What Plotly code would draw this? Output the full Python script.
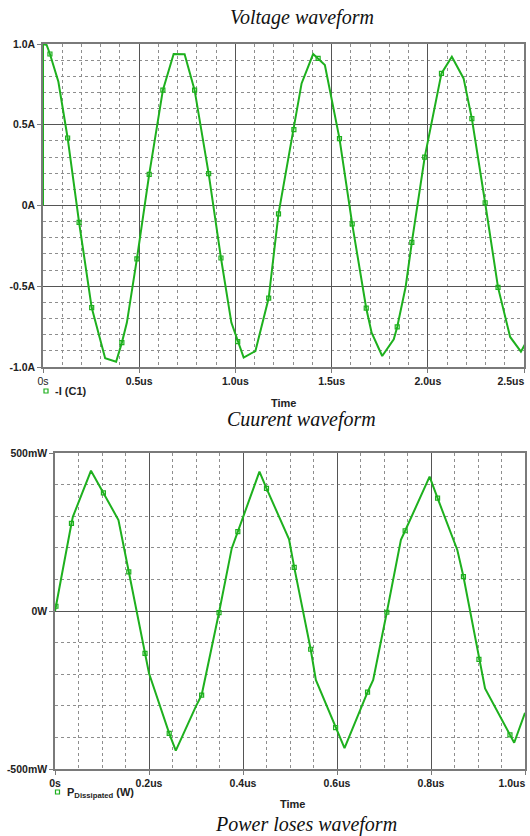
import plotly.graph_objects as go

# Capacitor current -I(C1): time in microseconds, current in amperes
t_i = [0, 0, 0.019, 0.036, 0.080, 0.128, 0.1875, 0.253, 0.323, 0.380, 0.410, 0.436,
       0.488, 0.552, 0.623, 0.679, 0.736, 0.788, 0.861, 0.925, 0.979, 1.012, 1.043,
       1.104, 1.173, 1.224, 1.304, 1.344, 1.404, 1.430, 1.465, 1.541, 1.607, 1.680,
       1.708, 1.763, 1.823, 1.841, 1.885, 1.917, 1.984, 2.071, 2.125, 2.186, 2.229,
       2.298, 2.365, 2.428, 2.484, 2.51]
i_c1 = [0, 1.0, 0.994, 0.938, 0.766, 0.418, -0.104, -0.632, -0.946, -0.967, -0.849,
        -0.725, -0.331, 0.193, 0.714, 0.938, 0.936, 0.714, 0.197, -0.325, -0.725,
        -0.843, -0.942, -0.901, -0.573, -0.052, 0.470, 0.756, 0.938, 0.911, 0.870,
        0.414, -0.114, -0.636, -0.787, -0.932, -0.828, -0.752, -0.503, -0.228, 0.300,
        0.818, 0.921, 0.787, 0.538, 0.017, -0.507, -0.814, -0.905, -0.849]
# samples that carry a marker symbol
i_marked = [3, 5, 6, 7, 10, 12, 13, 14, 17, 18, 19, 21, 24, 25, 26, 29, 31, 32, 33,
            37, 39, 40, 41, 44, 45, 46]

# Dissipated power: time in microseconds, power in milliwatts
t_p = [0, 0.002, 0.035, 0.038, 0.0766, 0.103, 0.135, 0.157, 0.1915, 0.200, 0.243,
       0.257, 0.300, 0.312, 0.349, 0.376, 0.389, 0.435, 0.450, 0.498, 0.509, 0.544,
       0.555, 0.597, 0.616, 0.665, 0.677, 0.706, 0.736, 0.745, 0.797, 0.814, 0.856,
       0.869, 0.902, 0.915, 0.968, 0.977, 1.0]
p_diss = [0, 15, 277, 298, 444, 374, 288, 124, -134, -197, -387, -442, -301, -266,
          -5, 198, 251, 441, 388, 227, 138, -121, -218, -369, -434, -257, -218, -4,
          225, 254, 425, 357, 193, 109, -153, -245, -392, -417, -322]
p_marked = [1, 2, 5, 7, 8, 10, 13, 14, 16, 18, 20, 21, 23, 25, 27, 29, 31, 33, 34, 36]

# Axis ticks
i_xticks = [0, 0.5, 1.0, 1.5, 2.0, 2.5]
i_xlabels = ["0s", "<b>0.5us</b>", "<b>1.0us</b>", "<b>1.5us</b>", "<b>2.0us</b>",
             "<b>2.5us</b>" + "\u00a0" * 9]
i_yticks = [-1.0, -0.5, 0, 0.5, 1.0]
i_ylabels = ["-1.0A", "-0.5A", "0A", "0.5A", "1.0A"]
p_xticks = [0, 0.2, 0.4, 0.6, 0.8, 1.0]
p_xlabels = ["<b>0s</b>", "<b>0.2us</b>", "<b>0.4us</b>", "<b>0.6us</b>",
             "<b>0.8us</b>", "<b>1.0us</b>" + "\u00a0" * 9]
p_yticks = [-500, 0, 500]
p_ylabels = ["-500mW", "0W", "500mW"]

W, H = 530, 836
GREEN = "rgb(30,176,30)"
MAJOR = "#555555"
MINOR = "#8e8e8e"
BORDER = "#7a7a7a"
TICKFONT = dict(family="Liberation Sans, Arial, sans-serif", size=10.5, color="#222222")
TITLEFONT = dict(family="Liberation Serif, Times New Roman, serif", size=20, color="#111111")


def px_x(x):
    return x / W


def px_y(y):
    return 1 - y / H


fig = go.Figure()

fig.add_trace(go.Scatter(x=t_i, y=i_c1, mode="lines", line=dict(color=GREEN, width=2),
                         xaxis="x", yaxis="y", showlegend=False, hoverinfo="skip"))
fig.add_trace(go.Scatter(x=[t_i[k] for k in i_marked], y=[i_c1[k] for k in i_marked],
                         mode="markers", xaxis="x", yaxis="y", showlegend=False,
                         marker=dict(symbol="square-open", size=4, color=GREEN,
                                     line=dict(width=1.2, color=GREEN))))
fig.add_trace(go.Scatter(x=t_p, y=p_diss, mode="lines", line=dict(color=GREEN, width=2),
                         xaxis="x2", yaxis="y2", showlegend=False, hoverinfo="skip"))
fig.add_trace(go.Scatter(x=[t_p[k] for k in p_marked], y=[p_diss[k] for k in p_marked],
                         mode="markers", xaxis="x2", yaxis="y2", showlegend=False,
                         marker=dict(symbol="square-open", size=4, color=GREEN,
                                     line=dict(width=1.2, color=GREEN))))


def axis(domain, rng, tickvals, ticktext, dtick_minor, anchor, bold=False):
    return dict(
        domain=domain, range=rng, anchor=anchor,
        tickmode="array", tickvals=tickvals, ticktext=ticktext,
        tickfont=dict(TICKFONT, weight="bold" if bold else "normal"),
        ticklabeloverflow="allow",
        ticks="outside", ticklen=4, tickcolor=BORDER, tickwidth=1,
        showgrid=True, gridcolor=MAJOR, gridwidth=1,
        minor=dict(dtick=dtick_minor, tick0=0, showgrid=True, gridcolor=MINOR,
                   griddash="dot", gridwidth=1, ticks=""),
        showline=True, linecolor=BORDER, linewidth=1.5, mirror=True,
        zeroline=False, fixedrange=True, automargin=False,
    )


fig.update_layout(
    width=W, height=H,
    margin=dict(l=0, r=0, t=0, b=0),
    paper_bgcolor="white", plot_bgcolor="white",
    xaxis=axis([px_x(43), px_x(524)], [0, 2.5], i_xticks, i_xlabels, 0.1, "y"),
    yaxis=axis([px_y(367), px_y(44)], [-1.0, 1.0], i_yticks, i_ylabels, 0.1, "x", bold=True),
    xaxis2=axis([px_x(55), px_x(525)], [0, 1.0], p_xticks, p_xlabels, 0.05, "y2"),
    yaxis2=axis([px_y(769), px_y(453)], [-500, 500], p_yticks, p_ylabels, 100, "x2", bold=True),
)

# Titles, axis names and legend entries
notes = [
    ("<i>Voltage waveform</i>", 302, 17, TITLEFONT),
    ("<i>Cuurent waveform</i>", 301, 420, TITLEFONT),
    ("<i>Power loses waveform</i>", 306, 824, TITLEFONT),
    ("<b>Time</b>", 283, 403, dict(TICKFONT, size=11)),
    ("<b>Time</b>", 292, 804, dict(TICKFONT, size=11)),
]
for text, x, y, font in notes:
    fig.add_annotation(text=text, x=px_x(x), y=px_y(y), xref="paper", yref="paper",
                       showarrow=False, xanchor="center", yanchor="middle", font=font)

fig.add_annotation(text="<b>-I (C1)</b>", x=px_x(53), y=px_y(391), xref="paper",
                   yref="paper", showarrow=False, xanchor="left", yanchor="middle",
                   font=dict(TICKFONT, size=11))
fig.add_annotation(text="<b>P<sub>Dissipated</sub> (W)</b>", x=px_x(65), y=px_y(793),
                   xref="paper", yref="paper", showarrow=False, xanchor="left",
                   yanchor="middle", font=dict(TICKFONT, size=11))
for cx, cy in [(46, 391), (57.5, 792)]:
    fig.add_shape(type="rect", xref="paper", yref="paper",
                  x0=px_x(cx - 2), x1=px_x(cx + 2), y0=px_y(cy + 2), y1=px_y(cy - 2),
                  line=dict(color=GREEN, width=1.2), fillcolor="white")

fig.write_html("out.html")
